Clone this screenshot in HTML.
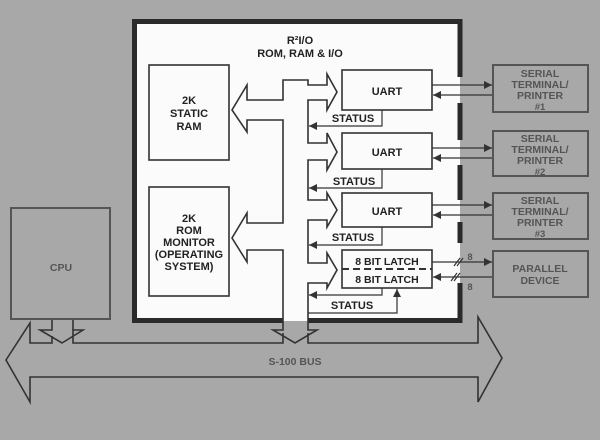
<!DOCTYPE html>
<html><head><meta charset="utf-8"><style>
html,body{margin:0;padding:0;background:#a8a8a8;}
svg{display:block;}
text{font-family:"Liberation Sans",sans-serif;font-weight:bold;}
</style></head><body>
<svg width="600" height="440" viewBox="0 0 600 440" xmlns="http://www.w3.org/2000/svg">
<defs>
<marker id="ah" viewBox="0 0 10 10" refX="10" refY="5" markerWidth="10" markerHeight="8" markerUnits="userSpaceOnUse" orient="auto"><path d="M0,0 L10,5 L0,10 z" fill="#333"/></marker>
</defs>
<rect width="600" height="440" fill="#a8a8a8"/>
<!-- main box -->
<rect x="134" y="21" width="326" height="300" fill="#fbfbfb"/>
<path d="M134.5,323 V21.5 H460" fill="none" stroke="#2a2a2a" stroke-width="5"/>
<path d="M134,320.5 H283 M308,320.5 H462" stroke="#2a2a2a" stroke-width="5"/>
<path d="M460,19 V77 M460,103 V140 M460,165 V200 M460,222 V243 M460,283 V323" stroke="#2a2a2a" stroke-width="5"/>
<text x="300" y="44" font-size="11" text-anchor="middle" fill="#222">R²I/O</text>
<text x="300" y="57" font-size="11" text-anchor="middle" fill="#222">ROM, RAM &amp; I/O</text>
<g fill="none" stroke="#333" stroke-width="1.6">
<rect x="149" y="65" width="80" height="95"/>
<rect x="149" y="187" width="80" height="109"/>
<rect x="342" y="70" width="90" height="40"/>
<rect x="342" y="133" width="90" height="36"/>
<rect x="342" y="193" width="90" height="34"/>
<rect x="342" y="250" width="90" height="38"/>
<path d="M283,80 V100 H247 V85 L232,110 L247,132 V120 H283 V223 H247 V213 L232,238 L247,262 V250 H283 V330 H273 L295,343 L317,330 H308 V283 H327 V288 L337,270 L327,253 V263 H308 V220 H327 V227 L337,210 L327,193 V200 H308 V160 H327 V170 L337,152 L327,133 V143 H308 V100 H327 V110 L337,92 L327,74 V85 H308 V80 Z"/>
<path d="M283,333 V343 H73 V330 H83 L62,343 L40,330 H52 V319"/>
<path d="M73,330 V319 M52,336 V343 H30 V323 L6,360 L30,402 V377 H478 V402 L502,358 L478,317 V343 H308 V333"/>
</g>
<path d="M342,269 H432" stroke="#333" stroke-width="2" stroke-dasharray="7,4"/>
<g font-size="11" fill="#222" text-anchor="middle">
<text x="189" y="104">2K</text><text x="189" y="117">STATIC</text><text x="189" y="130">RAM</text>
<text x="189" y="222">2K</text><text x="189" y="234">ROM</text><text x="189" y="246">MONITOR</text><text x="189" y="258">(OPERATING</text><text x="189" y="270">SYSTEM)</text>
<text x="387" y="95">UART</text><text x="387" y="156">UART</text><text x="387" y="215">UART</text>
<text x="387" y="265" font-size="10.5">8 BIT LATCH</text><text x="387" y="283" font-size="10.5">8 BIT LATCH</text>
<text x="353" y="122">STATUS</text><text x="354" y="185">STATUS</text><text x="353" y="241">STATUS</text><text x="352" y="309">STATUS</text>
</g>
<g fill="none" stroke="#333" stroke-width="1.2">
<path d="M382,110 V126 H309" marker-end="url(#ah)"/>
<path d="M382,169 V188 H309" marker-end="url(#ah)"/>
<path d="M382,227 V245 H309" marker-end="url(#ah)"/>
<path d="M382,288 V295 H309" marker-end="url(#ah)"/>
<path d="M308,313 H397 V289" marker-end="url(#ah)"/>
<path d="M432,85 H492" marker-end="url(#ah)"/><path d="M493,95 H433" marker-end="url(#ah)"/>
<path d="M432,148 H492" marker-end="url(#ah)"/><path d="M493,158 H433" marker-end="url(#ah)"/>
<path d="M432,205 H492" marker-end="url(#ah)"/><path d="M493,215 H433" marker-end="url(#ah)"/>
<path d="M432,262 H492" marker-end="url(#ah)"/><path d="M493,277 H433" marker-end="url(#ah)"/>
<path d="M454,266 L460,258 M457,266 L463,258 M451,281 L457,273 M454,281 L460,273"/>
</g>
<g fill="none" stroke="#555" stroke-width="2">
<rect x="493" y="65" width="95" height="47"/>
<rect x="493" y="131" width="95" height="45"/>
<rect x="493" y="193" width="95" height="46"/>
<rect x="493" y="251" width="95" height="46"/>
<rect x="11" y="208" width="99" height="111"/>
</g>
<g font-size="10.5" fill="#555" text-anchor="middle">
<text x="540" y="77">SERIAL</text><text x="540" y="88">TERMINAL/</text><text x="540" y="99">PRINTER</text><text x="540" y="110" font-size="9.5">#1</text>
<text x="540" y="142">SERIAL</text><text x="540" y="153">TERMINAL/</text><text x="540" y="164">PRINTER</text><text x="540" y="175" font-size="9.5">#2</text>
<text x="540" y="204">SERIAL</text><text x="540" y="215">TERMINAL/</text><text x="540" y="226">PRINTER</text><text x="540" y="237" font-size="9.5">#3</text>
<text x="540" y="272">PARALLEL</text><text x="540" y="284">DEVICE</text>
<text x="470" y="260" font-size="9.5">8</text><text x="470" y="290" font-size="9.5">8</text>
<text x="61" y="271">CPU</text>
<text x="295" y="365">S-100 BUS</text>
</g>
</svg>
</body></html>
